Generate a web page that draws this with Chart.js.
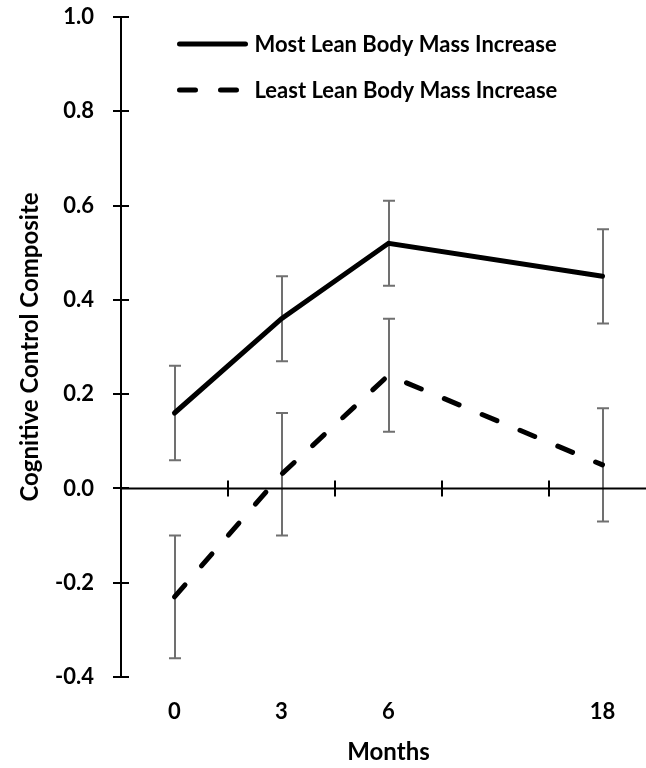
<!DOCTYPE html>
<html>
<head>
<meta charset="utf-8">
<script src="https://cdn.jsdelivr.net/npm/chart.js@4/dist/chart.umd.min.js"></script>
<style>
  html, body { margin: 0; padding: 0; background: #fff; overflow: hidden; }
  #wrap { width: 656px; height: 768px; }
</style>
</head>
<body>
<div id="wrap"><canvas id="c" width="656" height="768"></canvas></div>
<script>
// Months of follow-up; the blank slot keeps the 6 -> 18 month spacing wider
const months = ['0', '3', '6', '', '18'];

// Cognitive control composite, mean and error (+/-) per group
const mostLean = [0.16, 0.36, 0.52, null, 0.45];
const mostLeanErr = [0.10, 0.09, 0.09, null, 0.10];
const leastLean = [-0.23, 0.03, 0.24, null, 0.05];
const leastLeanErr = [0.13, 0.13, 0.12, null, 0.12];

const yTicks = [-0.4, -0.2, 0.0, 0.2, 0.4, 0.6, 0.8, 1.0];

const FONT = 'Lato, "Open Sans", sans-serif';
const errColor = '#707070';

// Error bars with caps, drawn beneath the lines
const errorBars = {
  id: 'errorBars',
  beforeDatasetsDraw(chart) {
    const { ctx, scales: { x, y } } = chart;
    ctx.save();
    ctx.strokeStyle = errColor;
    ctx.lineWidth = 2;
    chart.data.datasets.forEach(ds => {
      ds.data.forEach((v, i) => {
        const e = ds.errors[i];
        if (v === null || e === null) return;
        const px = Math.round(x.getPixelForValue(i));
        const top = y.getPixelForValue(v + e);
        const bot = y.getPixelForValue(v - e);
        ctx.beginPath();
        ctx.moveTo(px, top); ctx.lineTo(px, bot);
        ctx.moveTo(px - 6, top); ctx.lineTo(px + 6, top);
        ctx.moveTo(px - 6, bot); ctx.lineTo(px + 6, bot);
        ctx.stroke();
      });
    });
    ctx.restore();
  }
};

// Zero line with crossing ticks between months, and crossing ticks on the y axis
const axesMarks = {
  id: 'axesMarks',
  beforeDatasetsDraw(chart) {
    const { ctx, chartArea: a, scales: { x, y } } = chart;
    const y0 = y.getPixelForValue(0);
    ctx.save();
    ctx.strokeStyle = '#000';
    ctx.lineWidth = 2;
    ctx.beginPath();
    ctx.moveTo(a.left, y0); ctx.lineTo(a.right, y0);
    const half = (x.getPixelForValue(1) - x.getPixelForValue(0)) / 2;
    for (let i = 0; i < months.length; i++) {
      const bx = Math.round(x.getPixelForValue(i) + half);
      ctx.moveTo(bx, y0 - 8); ctx.lineTo(bx, y0 + 8);
    }
    y.ticks.forEach(t => {
      const py = Math.round(y.getPixelForValue(t.value));
      ctx.moveTo(a.left - 8, py); ctx.lineTo(a.left + 8, py);
    });
    ctx.stroke();
    ctx.restore();
  }
};

// Legend inside the plot, upper left
const innerLegend = {
  id: 'innerLegend',
  afterDraw(chart) {
    const { ctx, chartArea: a } = chart;
    ctx.save();
    chart.data.datasets.forEach((ds, i) => {
      const ly = a.top + 27 + i * 46;
      const lx = a.left + 58.5;
      ctx.strokeStyle = ds.borderColor;
      ctx.lineWidth = ds.borderWidth;
      ctx.lineCap = 'round';
      ctx.setLineDash(ds.borderDash || []);
      ctx.beginPath();
      ctx.moveTo(lx, ly); ctx.lineTo(lx + 66, ly);
      ctx.stroke();
      ctx.setLineDash([]);
      ctx.fillStyle = '#000';
      ctx.font = 'bold 22px ' + FONT;
      ctx.textBaseline = 'middle';
      ctx.textAlign = 'left';
      ctx.fillText(ds.label, lx + 75, ly + 1);
    });
    ctx.restore();
  }
};

new Chart(document.getElementById('c'), {
  type: 'line',
  data: {
    labels: months,
    datasets: [
      {
        label: 'Most Lean Body Mass Increase',
        data: mostLean,
        errors: mostLeanErr,
        borderColor: '#000',
        borderWidth: 5,
        borderCapStyle: 'round',
        borderJoinStyle: 'miter',
        pointRadius: 0,
        spanGaps: true,
        tension: 0
      },
      {
        label: 'Least Lean Body Mass Increase',
        data: leastLean,
        errors: leastLeanErr,
        borderColor: '#000',
        borderWidth: 5,
        borderDash: [16, 25],
        borderCapStyle: 'round',
        borderJoinStyle: 'miter',
        pointRadius: 0,
        spanGaps: true,
        tension: 0
      }
    ]
  },
  options: {
    responsive: false,
    animation: false,
    devicePixelRatio: 1,
    layout: { padding: { top: 17, left: 0, right: 0, bottom: 0 } },
    plugins: {
      legend: { display: false },
      tooltip: { enabled: false }
    },
    scales: {
      x: {
        type: 'category',
        offset: true,
        grid: { display: false, drawTicks: false },
        border: { display: false },
        ticks: {
          color: '#000',
          font: { family: FONT, size: 22, weight: 'bold' },
          padding: 22,
          autoSkip: false,
          maxRotation: 0
        },
        title: {
          display: true,
          text: 'Months',
          color: '#000',
          font: { family: FONT, size: 24, weight: 'bold' },
          padding: { top: 0, bottom: 1 }
        },
        afterFit: s => { s.height = 91; }
      },
      y: {
        min: -0.4,
        max: 1.0,
        afterBuildTicks: s => { s.ticks = yTicks.map(v => ({ value: v })); },
        grid: { display: false, drawTicks: false },
        border: { display: true, color: '#000', width: 2 },
        ticks: {
          color: '#000',
          font: { family: FONT, size: 22, weight: 'bold' },
          padding: 27,
          callback: v => (Math.abs(v) < 1e-9 ? 0 : v).toFixed(1)
        },
        title: {
          display: true,
          text: 'Cognitive Control Composite',
          color: '#000',
          font: { family: FONT, size: 24, weight: 'bold' },
          padding: { top: 16, bottom: 0 }
        },
        afterFit: s => {
          s.width = 121;
          s.paddingTop = 0;
          s.paddingBottom = 0;
        }
      }
    }
  },
  plugins: [errorBars, axesMarks, innerLegend]
});
</script>
</body>
</html>
